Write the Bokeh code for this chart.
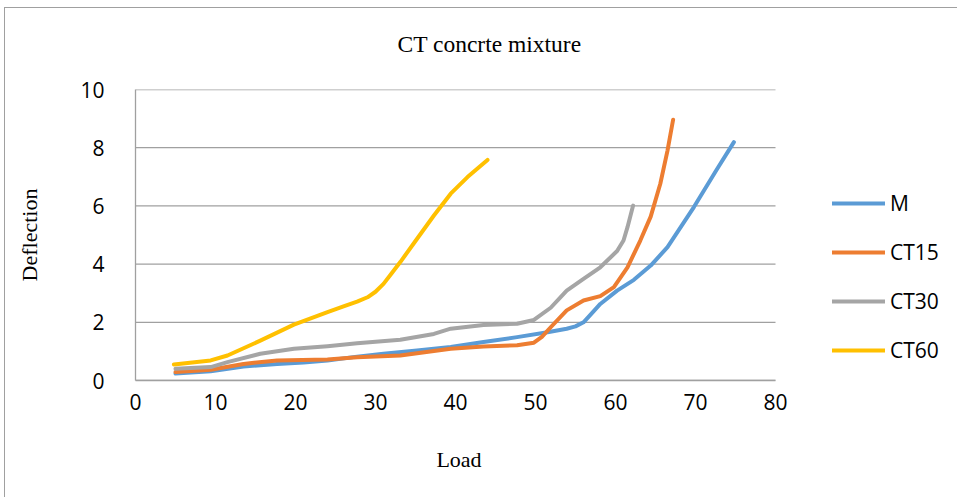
from bokeh.plotting import figure
from bokeh.models import Range1d, FixedTicker, Legend, LegendItem
from bokeh.embed import file_html
from bokeh.resources import INLINE

title_text = "CT concrte mixture"
x_label = "Load"
y_label = "Deflection"
x_ticks = [0, 10, 20, 30, 40, 50, 60, 70, 80]
y_ticks = [0, 2, 4, 6, 8, 10]
x_min, x_max = 0, 80
y_min, y_max = 0, 10

m_load = [5, 9.4, 13.5, 17.7, 21, 24, 27.7, 31, 35.2, 39.4, 43.5, 47.7, 51.5, 53.9, 55, 56, 57, 58.1, 60.2, 62.3, 64.4, 66.5, 69.8, 72.7, 74.8]
m_defl = [0.24, 0.32, 0.48, 0.57, 0.62, 0.69, 0.82, 0.92, 1.03, 1.15, 1.32, 1.49, 1.66, 1.78, 1.86, 2.0, 2.3, 2.63, 3.09, 3.46, 3.95, 4.58, 5.96, 7.27, 8.19]

ct15_load = [5, 9.4, 13.5, 17.7, 24, 27.7, 33.1, 39.4, 43.5, 47.7, 49.8, 50.8, 51.9, 53.9, 56, 58.1, 59.8, 61.5, 63.1, 64.4, 65.6, 66.5, 67.2]
ct15_defl = [0.29, 0.37, 0.57, 0.69, 0.72, 0.80, 0.86, 1.09, 1.17, 1.21, 1.30, 1.50, 1.83, 2.41, 2.75, 2.90, 3.21, 3.89, 4.81, 5.63, 6.76, 7.90, 8.96]

ct30_load = [5, 9.4, 11.5, 15.6, 19.8, 24, 27.7, 33.1, 37.3, 39.4, 43.5, 47.7, 49.8, 51.9, 53.9, 56, 58.1, 60.2, 61.0, 61.5, 62.2]
ct30_defl = [0.40, 0.46, 0.63, 0.92, 1.09, 1.18, 1.28, 1.40, 1.60, 1.78, 1.91, 1.95, 2.08, 2.50, 3.09, 3.49, 3.89, 4.45, 4.81, 5.27, 6.01]

ct60_load = [4.8, 9.4, 11.5, 15.6, 19.8, 24, 26, 27.7, 29, 30, 31, 32, 33.1, 35.2, 37.3, 39.4, 41.5, 44.0]
ct60_defl = [0.55, 0.69, 0.86, 1.37, 1.92, 2.35, 2.55, 2.71, 2.86, 3.05, 3.32, 3.68, 4.07, 4.87, 5.67, 6.42, 6.99, 7.58]

series = [
    ("M", m_load, m_defl, "#5B9BD5"),
    ("CT15", ct15_load, ct15_defl, "#ED7D31"),
    ("CT30", ct30_load, ct30_defl, "#A5A5A5"),
    ("CT60", ct60_load, ct60_defl, "#FFC000"),
]

W, H = 953, 490
LEFT, TOP, BOTTOM = 130, 81, 118
x_px_per_unit = 8.0

p = figure(width=W, height=H, output_backend="svg", toolbar_location=None,
           x_range=Range1d(x_min, (W - LEFT) / x_px_per_unit),
           y_range=Range1d(y_min, y_max),
           min_border_left=LEFT, min_border_right=0, min_border_top=TOP, min_border_bottom=BOTTOM)
p.styles = {"margin-left": "4px", "margin-top": "7px",
            "border-left": "1px solid #A0A0A0", "border-top": "1px solid #A0A0A0"}
p.outline_line_color = None
p.background_fill_color = "white"
p.border_fill_color = "white"

p.title.text = title_text
p.title.align = "left"
p.title.offset = 262
p.title.standoff = 32
p.title.padding = dict(left=0, right=0, top=0, bottom=17)
p.title.text_font = "Liberation Serif"
p.title.text_font_size = "23.5px"
p.title.text_font_style = "normal"
p.title.text_color = "black"

p.xgrid.grid_line_color = None
p.ygrid.grid_line_color = None

# horizontal gridlines limited to the data x-extent
p.segment(x0=[x_min] * len(y_ticks), y0=y_ticks, x1=[x_max] * len(y_ticks), y1=y_ticks,
          line_color="#A0A0A0", line_width=1.3)

p.xaxis.ticker = FixedTicker(ticks=x_ticks)
p.yaxis.ticker = FixedTicker(ticks=y_ticks)
p.xaxis.bounds = (x_min, x_max)
p.yaxis.bounds = (y_min, y_max)
for ax in (p.xaxis, p.yaxis):
    ax.axis_line_color = "#A0A0A0"
    ax.axis_line_width = 1.3
    ax.major_tick_line_color = None
    ax.minor_tick_line_color = None
    ax.major_label_text_font = "Open Sans"
    ax.major_label_text_font_size = "21px"
    ax.major_label_text_color = "black"
    ax.axis_label_text_font = "Liberation Serif"
    ax.axis_label_text_font_size = "22px"
    ax.axis_label_text_font_style = "normal"
    ax.axis_label_text_color = "black"

# the frame extends right to hold the legend; pad the label so it stays centred under 0-80
p.xaxis.axis_label = x_label + "\u00a0" * 32
p.yaxis.axis_label = y_label
p.xaxis.major_label_standoff = 7
p.yaxis.major_label_standoff = 25
p.xaxis.axis_label_standoff = 34
p.yaxis.axis_label_standoff = 35

items = []
for name, xs, ys, col in series:
    r = p.line(xs, ys, line_color=col, line_width=4, line_cap="round", line_join="round")
    items.append(LegendItem(label=name, renderers=[r]))

legend = Legend(items=items, location=(697, 16), orientation="vertical",
                padding=0, margin=0, spacing=21, glyph_width=53, glyph_height=24,
                label_height=24, label_standoff=5, border_line_color=None,
                background_fill_alpha=0, label_text_font="Open Sans",
                label_text_font_size="21px", label_text_color="black")
p.add_layout(legend)

open("out.html", "w").write(file_html(p, INLINE))
